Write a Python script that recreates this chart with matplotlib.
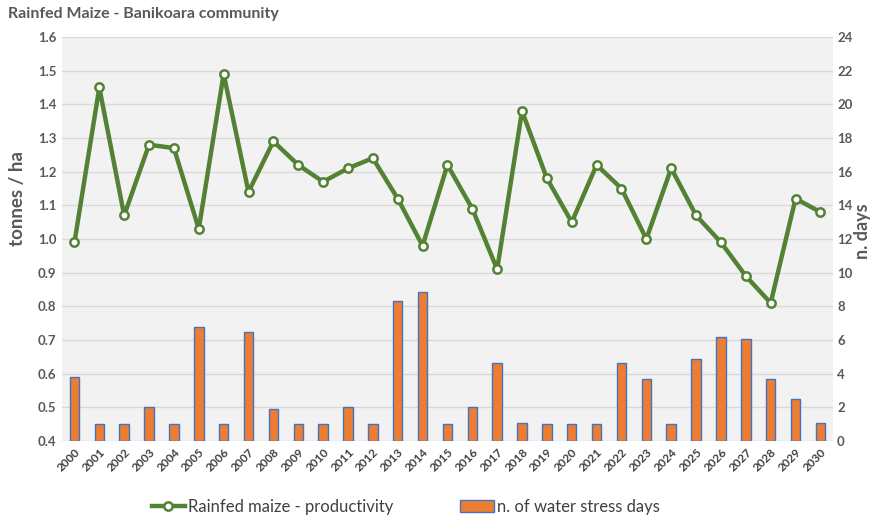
import matplotlib
matplotlib.use("Agg")
import matplotlib.pyplot as plt
import numpy as np

plt.rcParams['font.family'] = ['Lato', 'DejaVu Sans']

years = [str(y) for y in range(2000, 2031)]
productivity = [0.99, 1.45, 1.07, 1.28, 1.27, 1.03, 1.49, 1.14, 1.29, 1.22,
                1.17, 1.21, 1.24, 1.12, 0.98, 1.22, 1.09, 0.91, 1.38, 1.18,
                1.05, 1.22, 1.15, 1.00, 1.21, 1.07, 0.99, 0.89, 0.81, 1.12,
                1.08]
stress_days = [3.8, 1.0, 1.0, 2.0, 1.0, 6.8, 1.0, 6.5, 1.9, 1.0,
               1.0, 2.0, 1.0, 8.3, 8.85, 1.0, 2.0, 4.65, 1.1, 1.0,
               1.0, 1.0, 4.65, 3.7, 1.0, 4.85, 6.15, 6.05, 3.7, 2.5,
               1.1]

grey_txt = '#595959'
x = np.arange(len(years))

fig = plt.figure(figsize=(8.71, 5.18), dpi=100)
ax = fig.add_axes([0.0712, 0.1486, 0.885, 0.78])
ax2 = ax.twinx()

# bars on the right axis, behind the line
ax2.set_zorder(1)
ax.set_zorder(2)
ax.patch.set_visible(False)
ax2.patch.set_visible(True)
ax2.patch.set_facecolor('#F2F2F2')

bars = ax2.bar(x, stress_days, width=0.38, color='#ED7D31', edgecolor='#4472C4',
               linewidth=1.0, label='n. of water stress days', zorder=3)
line, = ax.plot(x, productivity, color='#548235', lw=3.2, marker='o', ms=6,
                mfc='white', mec='#548235', mew=1.8,
                label='Rainfed maize - productivity', zorder=4)

ax.set_xlim(-0.5, len(years) - 0.5)
ax.set_ylim(0.4, 1.6)
ax.set_yticks(np.arange(0.4, 1.61, 0.1))
ax.set_yticklabels(['%.1f' % v for v in np.arange(0.4, 1.61, 0.1)])
ax2.set_ylim(0, 24)
ax2.set_yticks(range(0, 25, 2))

ax2.grid(axis='y', color='#D9D9D9', lw=1.0)
ax2.set_axisbelow(True)

for a in (ax, ax2):
    for s in a.spines.values():
        s.set_visible(False)

ax.set_xticks(x)
ax.set_xticklabels(years, rotation=45, ha='right', rotation_mode='anchor',
                   fontsize=8.5, fontweight='bold', color='#404040')
ax.tick_params(axis='x', length=0, pad=4)
ax.tick_params(axis='y', length=0, pad=4, labelsize=9.5, labelcolor=grey_txt)
ax2.tick_params(axis='y', length=0, pad=3, labelsize=9.5, labelcolor=grey_txt)
for lab in ax.get_yticklabels() + ax2.get_yticklabels():
    lab.set_fontweight('bold')

ax.set_ylabel('tonnes / ha', fontsize=13.5, fontweight='bold', color=grey_txt)
ax.yaxis.set_label_coords(-0.047, 0.60)
ax2.set_ylabel('n. days', fontsize=13, fontweight='bold', color=grey_txt)
ax2.yaxis.set_label_coords(1.028, 0.52)

fig.text(0.009, 0.973, 'Rainfed Maize - Banikoara community', fontsize=11.5,
         fontweight='bold', color=grey_txt, ha='left', va='center')

fig.legend([line, bars], ['Rainfed maize - productivity', 'n. of water stress days'],
           loc='center', bbox_to_anchor=(0.466, 0.022), ncol=2, frameon=False,
           fontsize=12, labelcolor='#404040', columnspacing=4.0, handlelength=2.0,
           handletextpad=0.2)

fig.savefig('out.png', dpi=100)
